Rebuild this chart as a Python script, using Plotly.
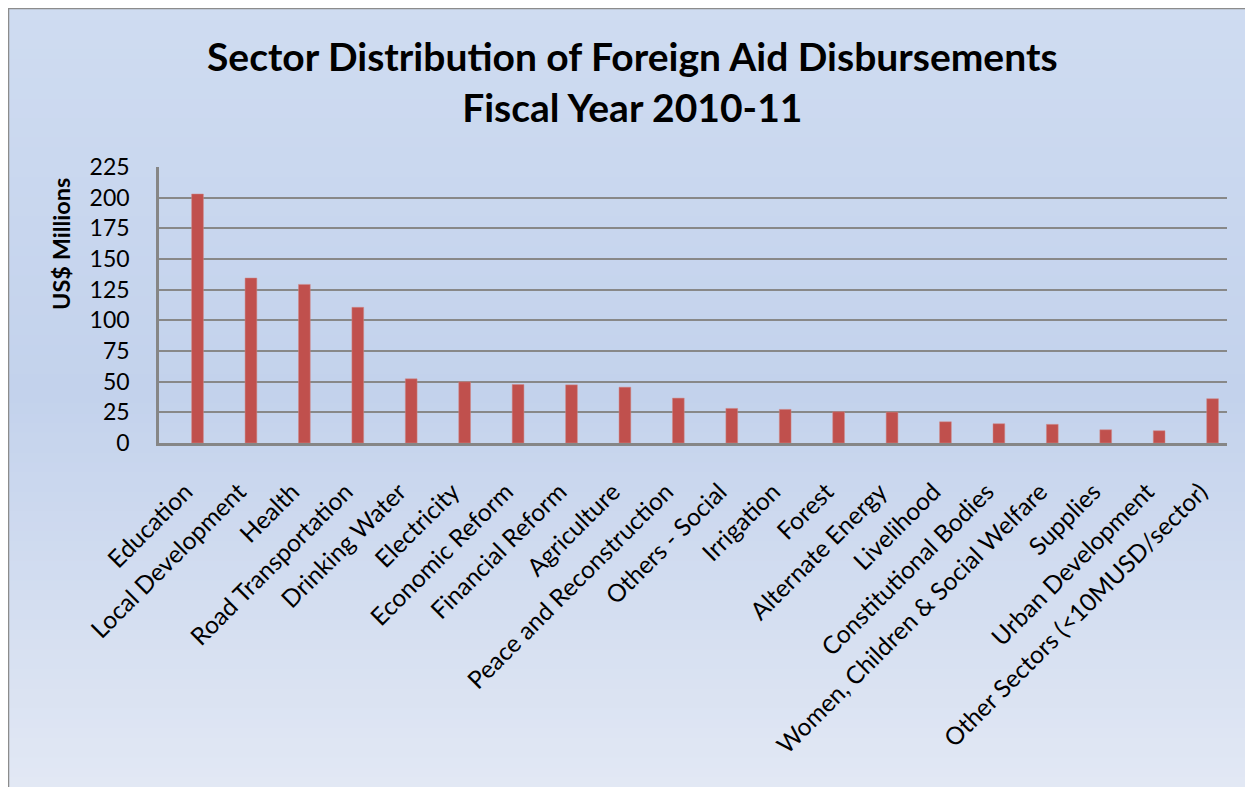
import plotly.graph_objects as go

categories = ["Education", "Local Development", "Health", "Road Transportation", "Drinking Water",
              "Electricity", "Economic Reform", "Financial Reform", "Agriculture",
              "Peace and Reconstruction", "Others - Social", "Irrigation", "Forest",
              "Alternate Energy", "Livelihood", "Constitutional Bodies",
              "Women, Children & Social Welfare", "Supplies", "Urban Development",
              "Other Sectors (<10MUSD/sector)"]
values = [203, 134.5, 129.3, 110.6, 52.3, 49.9, 47.7, 47.4, 45.5, 36.6, 28.2, 27.4,
          25.5, 25.2, 17.3, 15.7, 15.2, 10.8, 10.0, 36.1]
y_ticks = [0, 25, 50, 75, 100, 125, 150, 175, 200, 225]

W, H = 1253, 787
OFF = 8  # page body margin
L, R, T, B = 159 - OFF, 1227 - OFF, 167 - OFF, 443 - OFF

def px2x(px):
    return (px - OFF - L) / (R - L)

def py2y(py):
    return (B - (py - OFF)) / (B - T)

def lerp(a, b, t):
    return tuple(int(round(a[i] + (b[i] - a[i]) * t)) for i in range(3))

c_top = (207, 220, 241)
c_mid = (195, 210, 236)
c_bot = (226, 232, 244)

shapes = []
n = 80
for i in range(n):
    y0 = i * H / n
    y1 = (i + 1) * H / n + 1
    f = (y0 + y1) / 2 / H
    if f < 0.5:
        col = lerp(c_top, c_mid, f / 0.5)
    else:
        col = lerp(c_mid, c_bot, (f - 0.5) / 0.5)
    shapes.append(dict(type="rect", xref="paper", yref="paper", layer="below",
                       x0=px2x(-10), x1=px2x(W + 20), y0=py2y(y1), y1=py2y(y0),
                       fillcolor="rgb(%d,%d,%d)" % col, line=dict(width=0)))
# chart border
shapes.append(dict(type="rect", xref="paper", yref="paper", layer="above",
                   x0=px2x(8.5), x1=px2x(W + 40), y0=py2y(H + 40), y1=py2y(8.5),
                   fillcolor="rgba(0,0,0,0)", line=dict(color="#8c8c8c", width=1.5)))

fig = go.Figure()
fig.add_trace(go.Bar(x=list(range(len(categories))), y=values, width=0.22,
                     marker=dict(color="#C0504D", line=dict(color="#d08a88", width=0.5))))

fig.update_layout(
    width=W, height=H,
    margin=dict(l=L, r=W - R, t=T, b=H - B, autoexpand=False),
    paper_bgcolor="rgba(0,0,0,0)", plot_bgcolor="rgba(0,0,0,0)",
    shapes=shapes,
    showlegend=False,
    annotations=[
        dict(text="<b>Sector Distribution of Foreign Aid Disbursements<br>Fiscal Year 2010-11</b>",
             xref="paper", yref="paper", x=px2x(632), y=py2y(82),
             xanchor="center", yanchor="middle", showarrow=False,
             font=dict(family="Lato", size=39, color="black")),
        dict(text="<b>US$ Millions</b>", textangle=-90,
             xref="paper", yref="paper", x=px2x(61), y=py2y(244),
             xanchor="center", yanchor="middle", showarrow=False,
             font=dict(family="Lato", size=23.5, color="black")),
    ],
    font=dict(family="Lato", color="black"),
)
fig.update_xaxes(
    range=[-0.721, 19.27],
    tickmode="array", tickvals=list(range(len(categories))), ticktext=categories,
    tickangle=-45, tickfont=dict(size=24.5, family="Lato"),
    ticklabelstandoff=22, ticklabelshift=-12,
    showgrid=False, showline=True, linecolor="#868686", linewidth=2.5,
    ticks="", automargin=False, fixedrange=True,
)
fig.update_yaxes(
    range=[0, 225], tickmode="array", tickvals=y_ticks,
    tickfont=dict(size=23, family="Lato"),
    ticklabelstandoff=22,
    showgrid=True, gridcolor="#888888", gridwidth=2,
    showline=True, linecolor="#868686", linewidth=2.5,
    zeroline=False, ticks="", ticklen=0, automargin=False,
)

fig.write_html("out.html")
